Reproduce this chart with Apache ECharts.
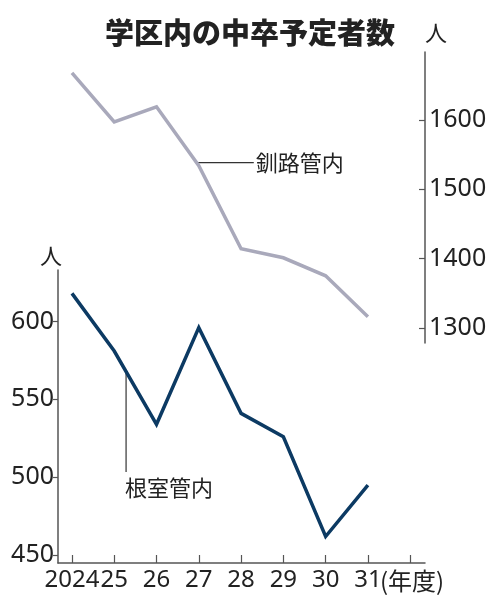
<!DOCTYPE html>
<html><head><meta charset="utf-8">
<script src="https://cdn.jsdelivr.net/npm/echarts@6/dist/echarts.min.js"></script>
<style>html,body{margin:0;padding:0;background:#fff}#c{width:495px;height:610px}</style>
</head><body><div id="c"></div>
<script>
const years = [2024, 2025, 2026, 2027, 2028, 2029, 2030, 2031];
const kushiro = [1668, 1597, 1619, 1534, 1414, 1401, 1375, 1316];
const nemuro = [618, 581, 534, 596, 541, 526, 462, 495];
const leftTicks = [450, 500, 550, 600];
const rightTicks = [1300, 1400, 1500, 1600];
const xTicks = [2024, 2025, 2026, 2027, 2028, 2029, 2030, 2031, 2032];
const xLabels = [2024, 2025, 2026, 2027, 2028, 2029, 2030, 2031];

const FONT = '"Noto Sans CJK JP", "Noto Sans", sans-serif';
const NUMFONT = '"Noto Sans", "Noto Sans CJK JP", sans-serif';
const AX = '#555';
const NAVY = '#0c3a63';
const GRAY = '#a9a9bb';

const chart = echarts.init(document.getElementById('c'), null, {renderer: 'canvas'});
const option = {
  animation: false,
  backgroundColor: '#fff',
  title: {
    text: '学区内の中卒予定者数', left: 245, top: 13, textAlign: 'center',
    textStyle: {fontFamily: FONT, fontSize: 29, fontWeight: 900, color: '#222'}
  },
  grid: [
    {left: 58, right: 70, top: 270, bottom: 47},
    {left: 58, right: 70, top: 52, bottom: 267}
  ],
  xAxis: [
    {
      type: 'value', gridIndex: 0, min: 2023.67, max: 2032.35,
      splitLine: {show: false},
      axisLine: {lineStyle: {color: AX, width: 1.5}},
      axisTick: {inside: true, length: 8, customValues: xTicks, lineStyle: {color: AX, width: 1.2}},
      axisLabel: {
        customValues: xLabels, margin: 5, hideOverlap: false,
        fontFamily: NUMFONT, fontSize: 24, color: '#222',
        formatter: v => v === 2024 ? '2024' : String(v - 2000)
      }
    },
    {type: 'value', gridIndex: 1, min: 2023.67, max: 2032.35, show: false, splitLine: {show: false}}
  ],
  yAxis: [
    {
      type: 'value', gridIndex: 0, position: 'left', min: 445, max: 633,
      splitLine: {show: false},
      axisLine: {show: true, onZero: false, lineStyle: {color: AX, width: 1.5}},
      axisTick: {show: true, length: 5, customValues: leftTicks, lineStyle: {color: AX, width: 1.2}},
      axisLabel: {customValues: leftTicks, margin: 4, hideOverlap: false, fontFamily: NUMFONT, fontSize: 25, color: '#222', formatter: v => String(v)}
    },
    {
      type: 'value', gridIndex: 1, position: 'right', min: 1278, max: 1698,
      splitLine: {show: false},
      axisLine: {show: true, onZero: false, lineStyle: {color: AX, width: 1.5}},
      axisTick: {show: true, inside: true, length: 6, customValues: rightTicks, lineStyle: {color: AX, width: 1.2}},
      axisLabel: {customValues: rightTicks, margin: 4, hideOverlap: false, fontFamily: NUMFONT, fontSize: 25, color: '#222', formatter: v => String(v)}
    }
  ],
  series: [
    {
      name: '根室管内', type: 'line', xAxisIndex: 0, yAxisIndex: 0,
      data: years.map((y, i) => [y, nemuro[i]]),
      showSymbol: false, lineStyle: {color: NAVY, width: 3.5, join: 'miter'}, z: 3
    },
    {
      name: '釧路管内', type: 'line', xAxisIndex: 1, yAxisIndex: 1,
      data: years.map((y, i) => [y, kushiro[i]]),
      showSymbol: false, lineStyle: {color: GRAY, width: 3.5, join: 'miter'}, z: 2
    }
  ]
};
chart.setOption(option);

// annotations positioned from data through the library's converters
const px = (s, x, y) => chart.convertToPixel({seriesIndex: s}, [x, y]);
const g27 = px(1, years[3], kushiro[3]);
const n25 = px(0, years[1], nemuro[1]);
const n26 = px(0, years[2], nemuro[2]);
const lx = n25[0] + (n26[0] - n25[0]) * 0.28;
const ly = n25[1] + (n26[1] - n25[1]) * 0.28;
const leftTop = chart.convertToPixel({yAxisIndex: 0}, 633);
const leftX = chart.convertToPixel({xAxisIndex: 0}, 2023.67);
const rightTop = chart.convertToPixel({yAxisIndex: 1}, 1698);
const rightX = chart.convertToPixel({xAxisIndex: 1}, 2032.35);
const t31 = chart.convertToPixel({xAxisIndex: 0}, 2031);
const base = chart.convertToPixel({yAxisIndex: 0}, 445);

chart.setOption({
  graphic: [
    {type: 'line', shape: {x1: g27[0] - 1, y1: g27[1] - 3, x2: g27[0] + 55, y2: g27[1] - 3}, style: {stroke: '#333', lineWidth: 1.2}},
    {type: 'text', x: g27[0] + 57, y: g27[1] - 3, style: {text: '釧路管内', font: '22px ' + FONT, fill: '#222', textVerticalAlign: 'middle'}},
    {type: 'line', shape: {x1: lx, y1: ly, x2: lx, y2: 472}, style: {stroke: '#333', lineWidth: 1.2}},
    {type: 'text', x: lx - 1, y: 488, style: {text: '根室管内', font: '22px ' + FONT, fill: '#222', textVerticalAlign: 'middle'}},
    {type: 'text', x: leftX - 7, y: leftTop - 14, style: {text: '人', font: '22px ' + FONT, fill: '#222', textAlign: 'center', textVerticalAlign: 'middle'}},
    {type: 'text', x: rightX + 11, y: rightTop - 19, style: {text: '人', font: '22px ' + FONT, fill: '#222', textAlign: 'center', textVerticalAlign: 'middle'}},
    {type: 'text', x: t31 + 12, y: base + 18, style: {text: '(年度)', font: '24px ' + FONT, fill: '#222', textVerticalAlign: 'middle'}}
  ]
});
</script></body></html>
